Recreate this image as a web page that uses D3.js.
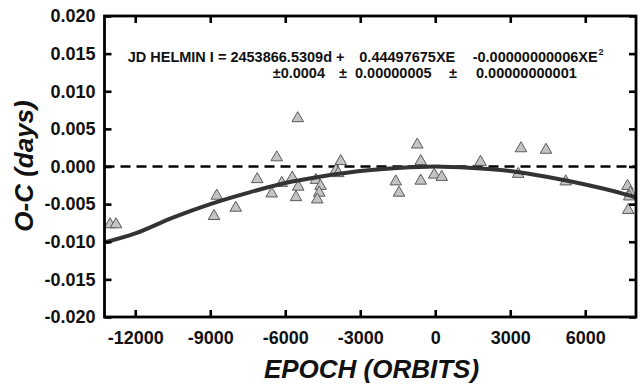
<!DOCTYPE html>
<html>
<head>
<meta charset="utf-8">
<script src="https://cdn.jsdelivr.net/npm/d3@7"></script>
<style>
  body { margin: 0; background: #fff; }
  text { font-family: "Liberation Sans", Arial, sans-serif; font-weight: bold; }
</style>
</head>
<body>
<div id="chart"></div>
<script>
// observed O-C timings (epoch in orbits, O-C in days)
var epochs = [-13010, -12770, -8740, -8850, -7980, -7120, -6340, -6540, -6140, -5720,
              -5500, -5480, -5570, -4770, -4590, -4640, -4720, -3780, -3970, -3880,
              -720, -580, -1580, -1450, -580, -40, 260, 1810, 3430, 4430,
              3320, 5220, 7690, 7800, 7760, 7720];
var ocValues = [-0.0077, -0.0077, -0.0039, -0.0066, -0.0055, -0.0017, 0.0012, -0.0036, -0.0022, -0.0015,
                0.0064, -0.0027, -0.0041, -0.0018, -0.0026, -0.0035, -0.0044, 0.0007, -0.0005, -0.0009,
                0.0029, 0.0007, -0.0020, -0.0035, -0.0019, -0.0011, -0.0014, 0.0006, 0.0024, 0.0022,
                -0.0010, -0.0020, -0.0026, -0.0035, -0.0040, -0.0058];

// quadratic ephemeris curve
var fitEpochs = [-13230, -12000, -10500, -9000, -7500, -6000, -4500, -3000, -1500, 0,
                 1500, 3000, 4500, 6000, 7500, 8030];
var fitValues = [-0.0101, -0.0089, -0.0068, -0.0050, -0.0035, -0.0022, -0.0013, -0.0006, -0.0002, 0.0000,
                 -0.0002, -0.0006, -0.0014, -0.0024, -0.0036, -0.0041];

var xTicks = [-12000, -9000, -6000, -3000, 0, 3000, 6000];
var yTicks = [-0.020, -0.015, -0.010, -0.005, 0.000, 0.005, 0.010, 0.015, 0.020];

var eqLine1 = ["JD HELMIN I = 2453866.5309d +", "0.44497675XE", "-0.00000000006XE"];
var eqLine2 = ["\u00b10.0004", "\u00b1", "0.00000005", "\u00b1", "0.00000000001"];

var width = 641, height = 388,
    margin = {top: 16, right: 5, bottom: 71, left: 104.5},
    w = width - margin.left - margin.right,
    h = height - margin.top - margin.bottom;

var svg = d3.select("#chart").append("svg")
    .attr("width", width)
    .attr("height", height);

var g = svg.append("g")
    .attr("transform", "translate(" + margin.left + "," + margin.top + ")");

var x = d3.scaleLinear().domain([-13230, 8030]).range([0, w]);
var y = d3.scaleLinear().domain([-0.020, 0.020]).range([h, 0]);

// zero line
g.append("line")
    .attr("x1", 0).attr("x2", w)
    .attr("y1", y(0)).attr("y2", y(0))
    .attr("stroke", "#000")
    .attr("stroke-width", 2.6)
    .attr("stroke-dasharray", "10,6");

// points
var tri = d3.symbol().type(d3.symbolTriangle).size(58);
g.selectAll(".pt")
    .data(epochs)
    .enter()
    .append("path")
    .attr("class", "pt")
    .attr("d", tri)
    .attr("transform", (d, i) => "translate(" + x(d) + "," + y(ocValues[i]) + ")")
    .attr("fill", "#c4c4c4")
    .attr("stroke", "#5a5a5a")
    .attr("stroke-width", 1);

// fit curve
var line = d3.line()
    .x(d => x(d))
    .y((d, i) => y(fitValues[i]))
    .curve(d3.curveMonotoneX);

g.append("path")
    .datum(fitEpochs)
    .attr("d", line)
    .attr("fill", "none")
    .attr("stroke", "#333")
    .attr("stroke-width", 4);

// axes, ticks pointing inward
function styleAxis(sel) {
    sel.select(".domain").remove();
    sel.selectAll(".tick line").attr("stroke", "#000").attr("stroke-width", 2.6);
    sel.selectAll("text").attr("fill", "#111").style("font-size", "18px")
        .style("font-family", "'Liberation Sans', Arial, sans-serif").style("font-weight", "bold");
}

g.append("g")
    .call(d3.axisLeft(y).tickValues(yTicks).tickSize(-7).tickPadding(9)
        .tickFormat(d => d.toFixed(3)))
    .call(styleAxis);

g.append("g")
    .attr("transform", "translate(" + w + ",0)")
    .call(d3.axisRight(y).tickValues(yTicks).tickSize(-7).tickFormat(""))
    .call(styleAxis);

g.append("g")
    .attr("transform", "translate(0," + h + ")")
    .call(d3.axisBottom(x).tickValues(xTicks).tickSize(-7).tickPadding(14)
        .tickFormat(d => String(d)))
    .call(styleAxis);

g.append("g")
    .call(d3.axisTop(x).tickValues(xTicks).tickSize(-7).tickFormat(""))
    .call(styleAxis);

// frame
g.append("rect")
    .attr("width", w).attr("height", h)
    .attr("fill", "none")
    .attr("stroke", "#000")
    .attr("stroke-width", 2.8);

// axis titles
svg.append("text")
    .attr("x", margin.left + x(-2550))
    .attr("y", 378)
    .attr("text-anchor", "middle")
    .style("font-size", "26px")
    .style("font-style", "italic")
    .attr("fill", "#111")
    .text("EPOCH (ORBITS)");

svg.append("text")
    .attr("transform", "translate(33,166) rotate(-90)")
    .attr("text-anchor", "middle")
    .style("font-size", "26px")
    .style("font-style", "italic")
    .attr("fill", "#111")
    .text("O-C (days)");

// ephemeris annotation
var eqX1 = [127.7, 359.3, 472.7];
var eq = svg.append("g").style("font-size", "14.5px").attr("fill", "#111");
eq.selectAll(".l1")
    .data(eqLine1)
    .enter()
    .append("text")
    .attr("x", (d, i) => eqX1[i])
    .attr("y", 62)
    .text(d => d);
eq.append("text")
    .attr("x", 598.5)
    .attr("y", 55)
    .style("font-size", "9px")
    .text("2");

var eqX2 = [272.7, 339, 355, 449, 476];
eq.selectAll(".l2")
    .data(eqLine2)
    .enter()
    .append("text")
    .attr("x", (d, i) => eqX2[i])
    .attr("y", 78)
    .text(d => d);
</script>
</body>
</html>
